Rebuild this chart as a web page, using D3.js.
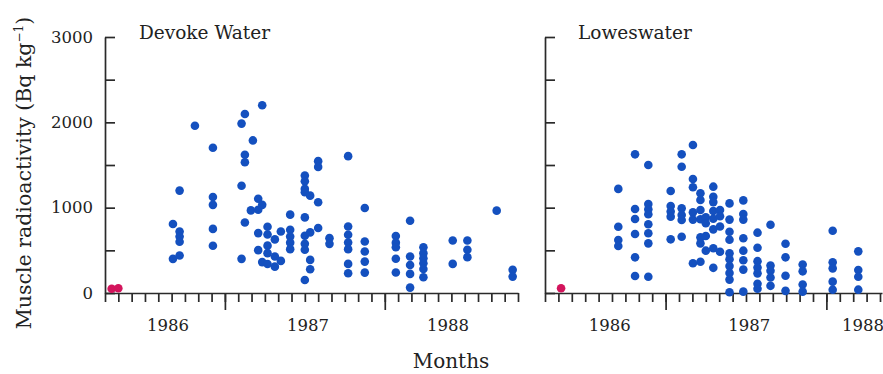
<!DOCTYPE html>
<html>
<head>
<meta charset="utf-8">
<script src="https://cdn.jsdelivr.net/npm/d3@7"></script>
<style>
  body { margin: 0; background: #fff; }
  svg { display: block; }
  text { font-family: "DejaVu Serif", serif; fill: #222; }
  .axis path, .axis line { stroke: #2a2a2a; stroke-width: 1.7; }
</style>
</head>
<body>
<svg id="chart" width="883" height="374"></svg>
<script>
// months are counted from the start of each x axis (one small tick = one month)
const yearLabels = ["1986", "1987", "1988"];
const devokeYearPos = [4.7, 15.2, 25.7];
const loweYearPos = [4.8, 15.2, 23.7];
const longTickMonths = [9, 21];
const yTicks = [0, 500, 1000, 1500, 2000, 2500, 3000];
const yLabelTicks = [0, 1000, 2000, 3000];

// pre-Chernobyl fish (red)
const devokePre = [[0.5, 50], [1.0, 55]];
const lowesPre = [[1.2, 55]];

// post-Chernobyl samples: [month, [Bq/kg values]]
const devokeSamples = [
  [5.1, [808, 400]],
  [5.6, [1200, 721, 662, 600, 440]],
  [6.75, [1960]],
  [8.1, [1702, 1125, 1033, 751, 553]],
  [10.25, [1985, 1257, 400]],
  [10.5, [2098, 1620, 1533, 827]],
  [10.95, [968]],
  [11.1, [1788]],
  [11.5, [1104, 976, 702, 502]],
  [11.8, [2200, 1033, 362]],
  [12.2, [777, 685, 555, 467, 340]],
  [12.75, [628, 427, 309]],
  [13.2, [721, 376]],
  [13.9, [918, 741, 662, 590, 514]],
  [15.0, [1376, 1310, 1220, 1180, 886, 671, 576, 506, 153]],
  [15.4, [1141, 710, 388, 278]],
  [16.0, [1545, 1478, 1063, 761]],
  [16.85, [643, 576]],
  [18.25, [1604, 780, 682, 592, 514, 341, 231]],
  [19.5, [996, 604, 486, 368, 239]],
  [21.83, [667, 590, 537, 402, 241]],
  [22.9, [847, 427, 329, 224, 63]],
  [23.9, [537, 467, 408, 349, 282, 184]],
  [26.1, [616, 341]],
  [27.2, [616, 506, 420]],
  [29.4, [965]],
  [30.6, [271, 192]]
];

const lowesSamples = [
  [5.47, [1220, 777, 621, 551]],
  [6.72, [1625, 984, 867, 691, 418, 199]],
  [7.71, [1500, 1043, 981, 922, 805, 700, 582, 191]],
  [9.38, [1195, 1020, 955, 895, 629]],
  [10.2, [1625, 1480, 992, 914, 855, 660]],
  [11.04, [1734, 1336, 1239, 945, 860, 348]],
  [11.6, [1168, 1090, 973, 864, 652, 582, 367]],
  [12.0, [887, 817, 668, 496]],
  [12.56, [1246, 1128, 1065, 960, 870, 746, 524, 295]],
  [13.06, [973, 900, 780, 484]],
  [13.77, [1050, 860, 718, 625, 465, 395, 315, 235, 157, 8]],
  [14.8, [1085, 925, 860, 641, 496, 383, 274, 16]],
  [15.86, [707, 530, 373, 299, 230, 109, 49]],
  [16.83, [800, 322, 260, 182, 84]],
  [17.95, [578, 418, 203, 25]],
  [19.23, [334, 254, 100, 16]],
  [21.47, [730, 361, 289, 133, 39]],
  [23.38, [488, 270, 191, 39]]
];

const svg = d3.select("#chart");
const y = d3.scaleLinear().domain([0, 3000]).range([293, 37]);

function drawPanel(opts) {
  const x = d3.scaleLinear().domain([0, opts.months]).range(opts.range);
  const g = svg.append("g");

  // y axis, ticks pointing inward
  g.append("g").attr("class", "axis")
    .attr("transform", `translate(${opts.range[0]},0)`)
    .call(d3.axisLeft(y).tickValues(yTicks).tickSize(-10).tickSizeOuter(0).tickPadding(12)
      .tickFormat(d => opts.yLabels && yLabelTicks.includes(d) ? d : ""))
    .call(a => a.selectAll("text").style("font-size", "16.5px").style("font-family", "DejaVu Serif"));

  // x axis, monthly ticks
  g.append("g").attr("class", "axis")
    .attr("transform", "translate(0,293)")
    .call(d3.axisBottom(x).tickValues(d3.range(0, Math.floor(opts.months) + 1)).tickSize(9).tickSizeOuter(0).tickFormat(""));

  // long ticks
  g.append("g").attr("class", "axis")
    .attr("transform", "translate(0,293)")
    .call(d3.axisBottom(x).tickValues(longTickMonths).tickSize(17).tickFormat(""))
    .call(a => a.select(".domain").remove());

  // year labels
  g.append("g")
    .attr("transform", "translate(0,293)")
    .call(d3.axisBottom(x).tickValues(opts.yearPos).tickSize(0).tickPadding(26)
      .tickFormat((d, i) => yearLabels[i]))
    .call(a => a.select(".domain").remove())
    .call(a => a.selectAll("text").style("font-size", "16.5px").style("font-family", "DejaVu Serif"));

  const pts = opts.samples.flatMap(([m, vals]) => vals.map(v => ({ m, v })));
  g.append("g").selectAll("circle").data(pts).join("circle")
    .attr("cx", d => x(d.m)).attr("cy", d => y(d.v)).attr("r", 4.3)
    .attr("fill", "#1450bf");

  g.append("g").selectAll("circle").data(opts.pre).join("circle")
    .attr("cx", d => x(d[0])).attr("cy", d => y(d[1])).attr("r", 4.3)
    .attr("fill", "#d3145c");

  g.append("text").attr("x", opts.titleX).attr("y", 39)
    .style("font-size", "18.5px").text(opts.title);
}

drawPanel({ range: [105, 518], months: 31, samples: devokeSamples, pre: devokePre,
  yearPos: devokeYearPos, title: "Devoke Water", titleX: 139, yLabels: true });
drawPanel({ range: [545, 882], months: 25.15, samples: lowesSamples, pre: lowesPre,
  yearPos: loweYearPos, title: "Loweswater", titleX: 578, yLabels: false });

// axis titles
svg.append("text").attr("x", 451).attr("y", 368).attr("text-anchor", "middle")
  .style("font-size", "20px").text("Months");

const yt = svg.append("text").attr("transform", "translate(31,173) rotate(-90)")
  .attr("text-anchor", "middle").style("font-size", "20.5px");
yt.append("tspan").text("Muscle radioactivity (Bq kg");
yt.append("tspan").attr("dy", -8).style("font-size", "12px").text("−1");
yt.append("tspan").attr("dy", 8).text(")");
</script>
</body>
</html>
